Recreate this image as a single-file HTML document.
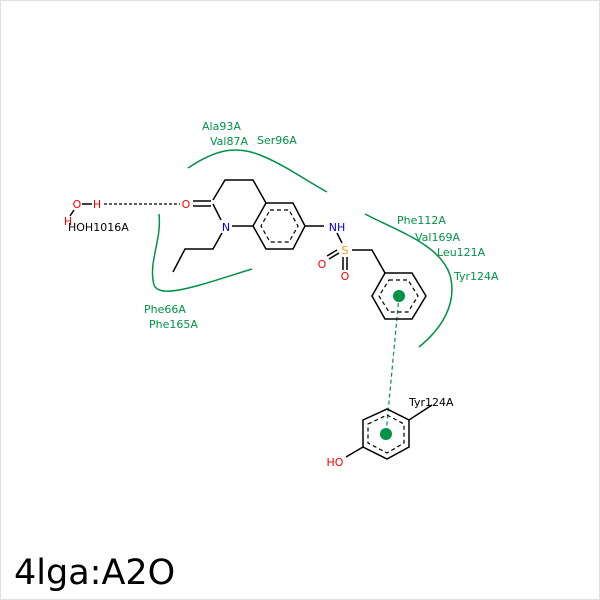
<!DOCTYPE html>
<html><head><style>body{margin:0;background:#fff}svg{display:block}</style></head><body>
<svg width="600" height="600" viewBox="0 0 600 600" xmlns="http://www.w3.org/2000/svg" font-family="DejaVu Sans, sans-serif">
<rect x="0.5" y="0.5" width="599" height="599" fill="#fff" stroke="#e0e0e0"/>
<g fill="none" stroke="#009246" stroke-width="1.5">
<path d="M188,168 C215,150 235,145 260,155 C285,165 305,180 327,192"/>
<path d="M159,214 C162,240 148,262 154,285 C160,300 200,285 252,269"/>
<path d="M365,214 C400,232 440,245 450,275 C458,305 440,330 419,347"/>
</g>
<line x1="399" y1="296" x2="386" y2="434" stroke="#009246" stroke-width="1.2" stroke-dasharray="4,3"/>
<g stroke="#000" stroke-width="1.5" fill="none">
<polygon points="266,203 293,203 305,226 293,249 266,249 253,226"/>
<polygon points="270,210 289,210 298,226 289,242 270,242 261,226" stroke-dasharray="4,3" stroke-width="1.2"/>
<polyline points="266,203 253,180 225,180 213,200"/>
<line x1="213" y1="204" x2="221" y2="220"/>
<line x1="232" y1="226" x2="253" y2="226"/>
<line x1="193" y1="201" x2="211" y2="201"/><line x1="193" y1="206" x2="211" y2="206"/>
<polyline points="222,233 213,249 185,249 173,272"/>
<line x1="305" y1="226" x2="324" y2="226"/>
<line x1="337" y1="233" x2="342" y2="243"/>
<line x1="329" y1="259" x2="339" y2="253"/><line x1="327" y1="256" x2="337" y2="250"/>
<line x1="343" y1="257" x2="343" y2="270"/><line x1="347" y1="257" x2="347" y2="270"/>
<polyline points="352,250 372,250 385,273"/>
<polygon points="385,273 412,273 426,296 412,319 385,319 372,296"/>
<polygon points="389,280 408,280 418,296 408,312 389,312 379,296" stroke-dasharray="4,3" stroke-width="1.2"/>
<polygon points="363,420 387,409 409,420 409,447 387,459 363,447"/>
<polygon points="368,424 387,415 404,424 404,443 387,453 368,443" stroke-dasharray="4,3" stroke-width="1.2"/>
<line x1="409" y1="420" x2="432" y2="405"/>
<line x1="363" y1="447" x2="346" y2="457"/>
<line x1="104" y1="204" x2="180" y2="204" stroke-dasharray="3,2" stroke-width="1.2"/>
<line x1="82" y1="204" x2="92" y2="204"/><line x1="74" y1="210" x2="70" y2="216"/>
</g>
<circle cx="399" cy="296" r="6" fill="#009246"/>
<circle cx="386" cy="434" r="6" fill="#009246"/>
<g font-size="11" text-anchor="middle">
<text x="186" y="208" fill="#f00">O</text>
<text x="226" y="231" fill="#00f">N</text>
<text x="337" y="231" fill="#00f">NH</text>
<text x="345" y="254" fill="#e6a000">S</text>
<text x="322" y="268" fill="#f00">O</text>
<text x="345" y="280" fill="#f00">O</text>
<text x="77" y="208" fill="#f00">O</text>
<text x="97" y="208" fill="#f00">H</text>
<text x="68" y="225" fill="#f00">H</text>
<text x="335" y="466" fill="#f00">HO</text>
</g>
<g font-size="11" fill="#000">
<text x="68" y="231">HOH1016A</text>
<text x="409" y="406">Tyr124A</text>
</g>
<g font-size="11" fill="#009246">
<text x="202" y="130">Ala93A</text>
<text x="210" y="145">Val87A</text>
<text x="257" y="144">Ser96A</text>
<text x="397" y="224">Phe112A</text>
<text x="415" y="241">Val169A</text>
<text x="437" y="256">Leu121A</text>
<text x="454" y="280">Tyr124A</text>
<text x="144" y="313">Phe66A</text>
<text x="149" y="328">Phe165A</text>
</g>
<text x="14" y="584" font-size="35" fill="#000">4lga:A2O</text>
</svg>
</body></html>
